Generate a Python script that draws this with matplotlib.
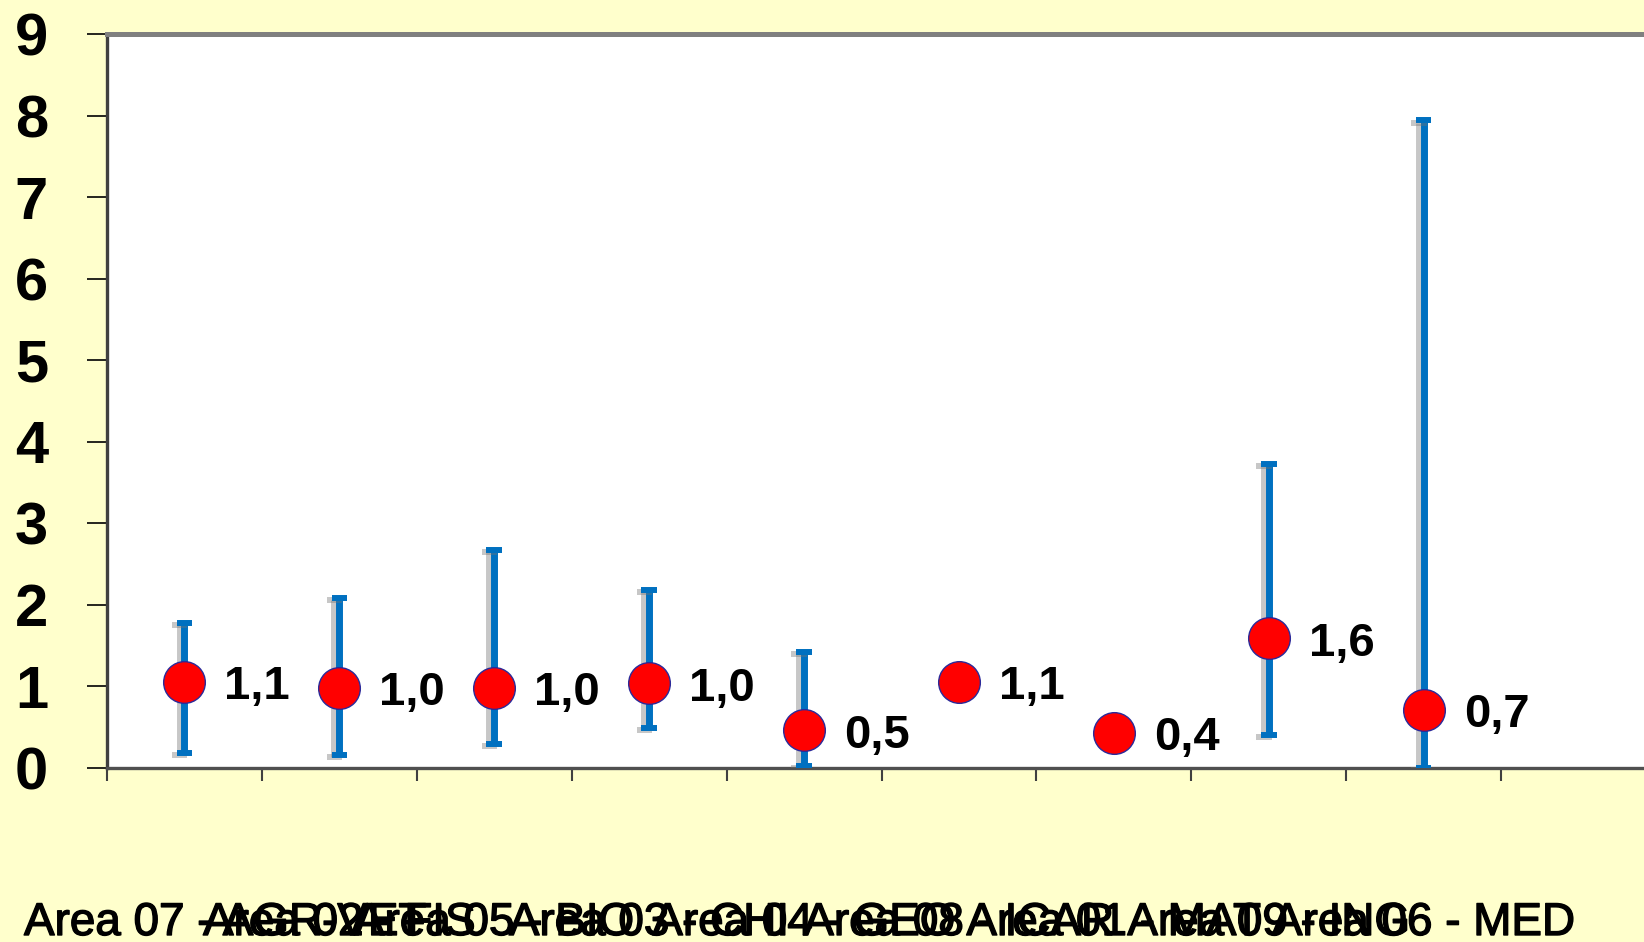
import numpy as np
import matplotlib
matplotlib.use("Agg")
import matplotlib.pyplot as plt
import matplotlib.patheffects as pe
import matplotlib.transforms as mtransforms

plt.rcParams['font.family'] = ['Liberation Sans', 'DejaVu Sans']

# ---- data ----
categories = ["Area 07 - AGR-VET", "Area 02 - FIS", "Area 05 - BIO", "Area 03 - CHI",
              "Area 04 - GEO", "Area 08 - ICAR", "Area 01 - MAT", "Area 09 - ING",
              "Area 06 - MED"]
values = [1.06, 0.98, 0.98, 1.04, 0.46, 1.06, 0.43, 1.59, 0.71]
lower = [0.18, 0.16, 0.30, 0.49, 0.03, np.nan, np.nan, 0.40, 0.00]
upper = [1.78, 2.09, 2.67, 2.18, 1.42, np.nan, np.nan, 3.73, 7.94]
yticks = list(range(0, 10))

BG = '#FFFFCC'
W, H = 1644, 942
fig = plt.figure(figsize=(W / 100, H / 100), dpi=100, facecolor=BG)
ax = fig.add_axes([107 / W, 1 - 768 / H, (1656 - 107) / W, (768 - 34) / H])
ax.set_facecolor('white')

x = np.arange(len(categories))
v = np.array(values)
lo = np.array(lower)
up = np.array(upper)
ok = np.isfinite(lo) & np.isfinite(up)

shadow = [pe.SimpleLineShadow(offset=(-3.5, -1.5), shadow_color='0.45', alpha=0.4),
          pe.Normal()]
eb = ax.errorbar(x[ok], v[ok], yerr=[v[ok] - lo[ok], up[ok] - v[ok]], fmt='none',
                 ecolor='#0070C0', elinewidth=5.0, capsize=5.6, capthick=4.3, zorder=3)
for lc in eb[2]:
    lc.set_path_effects(shadow)
    lc.set_capstyle('butt')
for cl in eb[1]:
    cl.set_path_effects(shadow)

ax.plot(x, v, linestyle='none', marker='o', markersize=30, markerfacecolor='#FF0000',
        markeredgecolor='#2A2A9A', markeredgewidth=1.0, zorder=5)

for xi, vi in zip(x, v):
    ax.annotate(f"{vi:.1f}".replace('.', ','), (xi, vi), xytext=(28.8, -12.5),
                textcoords='offset points', ha='left', va='baseline',
                fontsize=34, fontweight='bold', color='black', zorder=6)

ax.set_xlim(-0.5, 9.5)
ax.set_ylim(0, 9)
ax.set_yticks(yticks)
ax.set_yticklabels([str(t) for t in yticks], fontsize=43, fontweight='bold')
ax.tick_params(axis='y', direction='out', length=14.4, width=1.2, color='black', pad=28)

ax.set_xticks([])
ax.set_xticks(np.arange(-0.5, len(categories)), minor=True)
ax.tick_params(axis='x', which='minor', direction='out', length=9.4, width=1.5,
               color='#404040')

ax.spines['right'].set_visible(False)
ax.spines['top'].set_color('#808080')
ax.spines['top'].set_linewidth(3.6)
ax.spines['left'].set_color('#404040')
ax.spines['left'].set_linewidth(2.4)
ax.spines['bottom'].set_color('#505050')
ax.spines['bottom'].set_linewidth(2.4)

# category labels (overlapping, as in the original)
trans = mtransforms.blended_transform_factory(ax.transData, fig.transFigure)
texts = []
for xi, lab in zip(x, categories):
    t = ax.text(xi, 7 / H, lab, transform=trans, ha='center', va='baseline',
                fontsize=33, color='black', clip_on=False,
                path_effects=[pe.withStroke(linewidth=1.0, foreground='black')])
    texts.append(t)

fig.canvas.draw()
r = fig.canvas.get_renderer()
for t in texts:
    bb = t.get_window_extent(r)
    if bb.x0 < 24:
        dx = 24 - bb.x0
        t.set_transform(trans + mtransforms.ScaledTranslation(dx / 100, 0, fig.dpi_scale_trans))

fig.savefig('out.png', dpi=100, facecolor=BG)
